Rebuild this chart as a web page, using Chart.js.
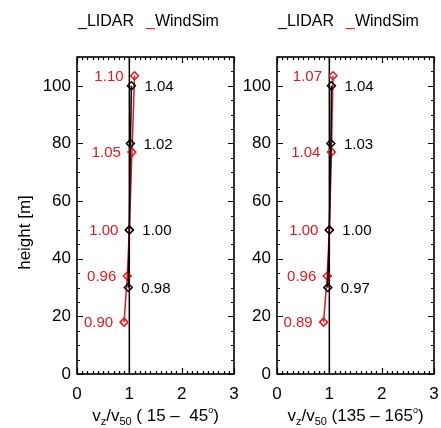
<!DOCTYPE html>
<html>
<head>
    <title>Vertical wind profile</title>
    <style>
        body { margin: 0; background: white; width: 441px; height: 428px; position: relative; overflow: hidden; }
        canvas { position: absolute; top: 0; }
        #leftChart { left: 0; }
        #rightChart { left: 240px; }
    </style>
</head>
<body>

<canvas id="leftChart" width="240" height="428"></canvas>
<canvas id="rightChart" width="201" height="428"></canvas>

<script src="https://cdn.jsdelivr.net/npm/chart.js"></script>
<script>
    // measurement heights [m]
    const heightLidar = [100, 80, 50, 30];
    const heightWindSim = [103.5, 77, 50, 34, 18];

    // normalised speed v_z / v_50, sector 15-45 deg
    const lidarLeft = [1.04, 1.02, 1.00, 0.98];
    const windSimLeft = [1.10, 1.05, 1.00, 0.96, 0.90];

    // sector 135-165 deg
    const lidarRight = [1.04, 1.03, 1.00, 0.97];
    const windSimRight = [1.07, 1.04, 1.00, 0.96, 0.89];

    const refLine = [1, 1];
    const refHeight = [0, 110];

    const xTicks = [0, 1, 2, 3];
    const yTicks = [0, 20, 40, 60, 80, 100];

    const FONT = '"Liberation Sans", Arial, Helvetica, sans-serif';
    const RED = '#e8171c';

    function pts(xs, ys) {
        return xs.map((v, i) => ({ x: v, y: ys[i] }));
    }

    // text runs: [text, dy, sizeScale]
    function drawRuns(ctx, runs, cx, baseY, size) {
        let total = 0;
        runs.forEach(r => {
            ctx.font = Math.round(size * r[2]) + 'px ' + FONT;
            total += ctx.measureText(r[0]).width;
        });
        let px = cx - total / 2;
        ctx.textAlign = 'left';
        ctx.textBaseline = 'alphabetic';
        runs.forEach(r => {
            ctx.font = Math.round(size * r[2]) + 'px ' + FONT;
            ctx.fillText(r[0], px, baseY + r[1]);
            px += ctx.measureText(r[0]).width;
        });
    }

    const frame = {
        id: 'frame',
        afterDatasetsDraw(chart, args, opts) {
            const { ctx, chartArea: a, scales: { x, y } } = chart;
            ctx.save();
            ctx.strokeStyle = '#000';
            ctx.fillStyle = '#000';

            // box
            ctx.lineWidth = 1.6;
            ctx.strokeRect(a.left, a.top, a.right - a.left, a.bottom - a.top);

            // inward ticks on all four sides
            ctx.lineWidth = 1.2;
            ctx.beginPath();
            for (let i = 0; i <= 30; i++) {
                const px = Math.round(x.getPixelForValue(i / 10)) + 0.5;
                const len = i % 10 === 0 ? 6 : 3;
                ctx.moveTo(px, a.bottom); ctx.lineTo(px, a.bottom - len);
                ctx.moveTo(px, a.top); ctx.lineTo(px, a.top + len);
            }
            for (let v = 0; v <= 110; v += 5) {
                const py = Math.round(y.getPixelForValue(v)) + 0.5;
                const len = v % 20 === 0 ? 6 : 3;
                ctx.moveTo(a.left, py); ctx.lineTo(a.left + len, py);
                ctx.moveTo(a.right, py); ctx.lineTo(a.right - len, py);
            }
            ctx.stroke();

            // tick labels
            ctx.font = '17px ' + FONT;
            ctx.textAlign = 'center';
            ctx.textBaseline = 'middle';
            xTicks.forEach(v => ctx.fillText(String(v), x.getPixelForValue(v), a.bottom + 20));
            ctx.textAlign = 'right';
            yTicks.forEach(v => ctx.fillText(String(v), a.left - 6, y.getPixelForValue(v)));

            // value labels
            ctx.font = '15px ' + FONT;
            ctx.textAlign = 'left';
            opts.lidar.forEach((v, i) => {
                ctx.fillText(v.toFixed(2), x.getPixelForValue(v) + 13, y.getPixelForValue(heightLidar[i]) + 1);
            });
            ctx.fillStyle = RED;
            ctx.textAlign = 'right';
            opts.windSim.forEach((v, i) => {
                ctx.fillText(v.toFixed(2), x.getPixelForValue(v) - 11, y.getPixelForValue(heightWindSim[i]) + 1);
            });

            // legend, starting at the plot's left edge
            const cx = (a.left + a.right) / 2;
            ctx.font = '16px ' + FONT;
            ctx.textBaseline = 'alphabetic';
            ctx.textAlign = 'left';
            const w1 = ctx.measureText('_LIDAR').width;
            const gap = 12;
            let lx = a.left + 1;
            const ly = 26;
            ctx.fillStyle = '#000';
            ctx.fillText('_', lx, ly);
            ctx.fillText('LIDAR', lx + ctx.measureText('_').width, ly);
            lx += w1 + gap;
            ctx.fillStyle = RED;
            ctx.fillText('_', lx, ly);
            ctx.fillStyle = '#000';
            ctx.fillText('WindSim', lx + ctx.measureText('_').width, ly);

            // x axis title with sub/superscripts
            drawRuns(ctx, [
                ['v', 0, 1], ['z', 4, 0.65], ['/v', 0, 1], ['50', 4, 0.65],
                [opts.sectorA, 0, 1], ['o', -8, 0.5], [')', 0, 1]
            ], cx, 421, 17);

            // y axis title
            ctx.save();
            ctx.translate(opts.yTitleX, (a.top + a.bottom) / 2 + 17);
            ctx.rotate(-Math.PI / 2);
            ctx.font = '17px ' + FONT;
            ctx.textAlign = 'center';
            ctx.textBaseline = 'middle';
            ctx.fillText('height [m]', 0, 0);
            ctx.restore();

            ctx.restore();
        }
    };

    function makeChart(id, lidar, windSim, sectorA, pad, yTitleX) {
        const marker = {
            pointStyle: 'rectRot',
            pointRadius: 4,
            pointBorderWidth: 1.5,
            pointBackgroundColor: 'rgba(255,255,255,0)',
            showLine: true,
            borderWidth: 1.5
        };
        return new Chart(document.getElementById(id), {
            type: 'scatter',
            data: {
                datasets: [
                    Object.assign({ label: 'LIDAR', data: pts(lidar, heightLidar), borderColor: '#000', pointBorderColor: '#000', order: 1 }, marker),
                    Object.assign({ label: 'WindSim', data: pts(windSim, heightWindSim), borderColor: RED, pointBorderColor: RED, order: 2 }, marker),
                    { label: 'ref', data: pts(refLine, refHeight), showLine: true, borderColor: '#000', borderWidth: 1.5, pointRadius: 0, order: 3 }
                ]
            },
            options: {
                responsive: false,
                animation: false,
                clip: false,
                layout: { padding: pad },
                scales: {
                    x: { type: 'linear', min: 0, max: 3, display: false },
                    y: { type: 'linear', min: 0, max: 110, display: false }
                },
                plugins: {
                    legend: { display: false },
                    tooltip: { enabled: false },
                    frame: { lidar, windSim, sectorA, yTitleX }
                }
            },
            plugins: [frame]
        });
    }

    makeChart('leftChart', lidarLeft, windSimLeft, ' ( 15 \u2013  45',
        { left: 77, right: 6, top: 57, bottom: 54 }, 25);
    makeChart('rightChart', lidarRight, windSimRight, ' (135 \u2013 165',
        { left: 37, right: 7, top: 57, bottom: 54 }, -100);
</script>

</body>
</html>
